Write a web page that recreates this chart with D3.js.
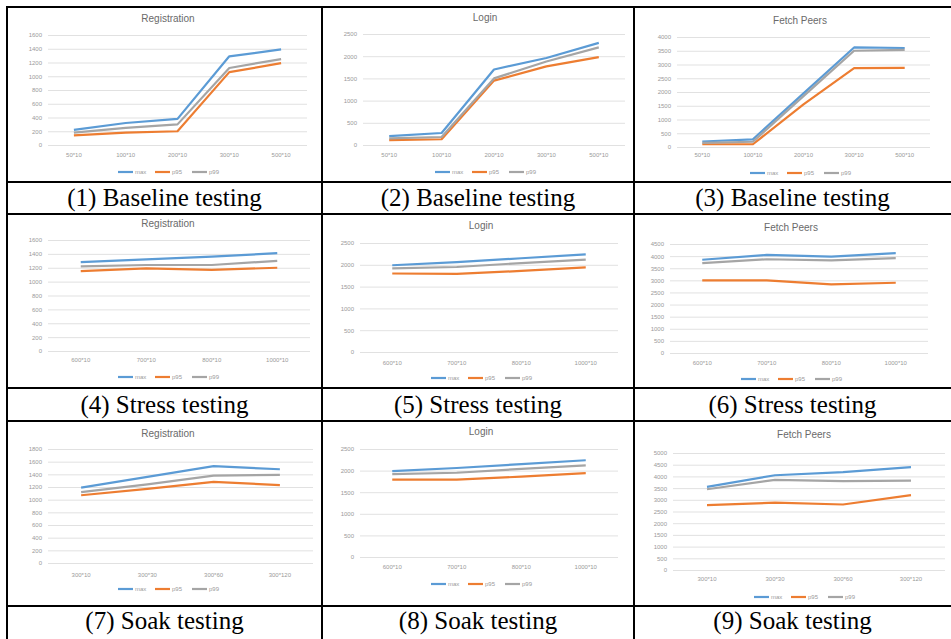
<!DOCTYPE html>
<html>
<head>
<meta charset="utf-8">
<script src="https://cdn.jsdelivr.net/npm/d3@7"></script>
<style>
  body { margin: 0; background: #fff; }
  svg { display: block; }
</style>
</head>
<body>
<script>
// categories
const baseCats = ['50*10', '100*10', '200*10', '300*10', '500*10']
const stressCats = ['600*10', '700*10', '800*10', '1000*10']
const soakCats = ['300*10', '300*30', '300*60', '300*120']

// series (ms)
const regBaseMax = [220, 320, 380, 1290, 1390]
const regBaseP95 = [140, 180, 200, 1060, 1190]
const regBaseP99 = [180, 250, 300, 1120, 1250]

const loginBaseMax = [200, 270, 1700, 1960, 2300]
const loginBaseP95 = [110, 130, 1450, 1770, 1980]
const loginBaseP99 = [150, 180, 1500, 1880, 2200]

const peersBaseMax = [200, 280, 1950, 3620, 3600]
const peersBaseP95 = [100, 100, 1550, 2870, 2880]
const peersBaseP99 = [150, 190, 1850, 3500, 3530]

const regStressMax = [1280, 1320, 1360, 1410]
const regStressP95 = [1150, 1190, 1170, 1200]
const regStressP99 = [1220, 1240, 1240, 1300]

const loginStressMax = [1990, 2060, 2150, 2240]
const loginStressP95 = [1800, 1790, 1860, 1940]
const loginStressP99 = [1920, 1950, 2040, 2120]

const peersStressMax = [3850, 4050, 3980, 4120]
const peersStressP95 = [3000, 3000, 2830, 2900]
const peersStressP99 = [3710, 3870, 3820, 3920]

const regSoakMax = [1190, 1360, 1530, 1480]
const regSoakP95 = [1070, 1170, 1280, 1230]
const regSoakP99 = [1120, 1240, 1380, 1390]

const loginSoakMax = [1990, 2060, 2150, 2240]
const loginSoakP95 = [1790, 1790, 1860, 1940]
const loginSoakP99 = [1920, 1950, 2040, 2120]

const peersSoakMax = [3550, 4050, 4180, 4400]
const peersSoakP95 = [2770, 2880, 2800, 3200]
const peersSoakP99 = [3450, 3850, 3800, 3820]

// y tick labels
const ticks1600 = [0, 200, 400, 600, 800, 1000, 1200, 1400, 1600]
const ticks1800 = [0, 200, 400, 600, 800, 1000, 1200, 1400, 1600, 1800]
const ticks2500 = [0, 500, 1000, 1500, 2000, 2500]
const ticks4000 = [0, 500, 1000, 1500, 2000, 2500, 3000, 3500, 4000]
const ticks4500 = [0, 500, 1000, 1500, 2000, 2500, 3000, 3500, 4000, 4500]
const ticks5000 = [0, 500, 1000, 1500, 2000, 2500, 3000, 3500, 4000, 4500, 5000]

const seriesNames = ['max', 'p95', 'p99']
const colors = ['#5b9bd5', '#ed7d31', '#a5a5a5']

const titles = ['Registration', 'Login', 'Fetch Peers']
const captions = [
  '(1) Baseline testing', '(2) Baseline testing', '(3) Baseline testing',
  '(4) Stress testing', '(5) Stress testing', '(6) Stress testing',
  '(7) Soak testing', '(8) Soak testing', '(9) Soak testing'
]

const svg = d3.select('body').append('svg')
  .attr('width', 951)
  .attr('height', 639)

// panel layout: plot box, title, x labels and legend positions
const panels = [
  {cats: baseCats, s: [regBaseMax, regBaseP95, regBaseP99], ticks: ticks1600, title: 0, x: [48, 307], y: [145, 35], tx: 168, ty: 22, ly: 157, gy: 172},
  {cats: baseCats, s: [loginBaseMax, loginBaseP95, loginBaseP99], ticks: ticks2500, title: 1, x: [363, 625], y: [145, 34], tx: 485, ty: 21, ly: 157, gy: 172},
  {cats: baseCats, s: [peersBaseMax, peersBaseP95, peersBaseP99], ticks: ticks4000, title: 2, x: [677, 930], y: [147, 37], tx: 800, ty: 24, ly: 157, gy: 173},
  {cats: stressCats, s: [regStressMax, regStressP95, regStressP99], ticks: ticks1600, title: 0, x: [48, 310], y: [351, 240], tx: 168, ty: 227, ly: 362, gy: 377},
  {cats: stressCats, s: [loginStressMax, loginStressP95, loginStressP99], ticks: ticks2500, title: 1, x: [360, 618], y: [352, 243], tx: 481, ty: 229, ly: 365, gy: 378},
  {cats: stressCats, s: [peersStressMax, peersStressP95, peersStressP99], ticks: ticks4500, title: 2, x: [670, 928], y: [353, 244], tx: 791, ty: 231, ly: 365, gy: 379},
  {cats: soakCats, s: [regSoakMax, regSoakP95, regSoakP99], ticks: ticks1800, title: 0, x: [48, 313], y: [563, 449], tx: 168, ty: 437, ly: 577, gy: 589},
  {cats: stressCats, s: [loginSoakMax, loginSoakP95, loginSoakP99], ticks: ticks2500, title: 1, x: [360, 618], y: [557, 449], tx: 481, ty: 435, ly: 569, gy: 584},
  {cats: soakCats, s: [peersSoakMax, peersSoakP95, peersSoakP99], ticks: ticks5000, title: 2, x: [673, 945], y: [570, 453], tx: 804, ty: 438, ly: 581, gy: 597}
]

const small = '6px "Liberation Sans", Arial, sans-serif'

panels.forEach((p) => {
  const g = svg.append('g')
  const x = d3.scaleBand().domain(p.cats).range(p.x)
  const y = d3.scaleLinear().domain([0, d3.max(p.ticks)]).range(p.y)

  // gridlines + y labels
  const yAxis = g.append('g')
    .attr('transform', `translate(${p.x[0]},0)`)
    .call(d3.axisLeft(y).tickValues(p.ticks).tickFormat(d3.format('d'))
      .tickSize(-(p.x[1] - p.x[0])).tickPadding(6))
  yAxis.select('.domain').remove()
  yAxis.selectAll('line').attr('stroke', '#d9d9d9').attr('stroke-width', 0.8)
  yAxis.selectAll('text')
    .attr('fill', '#9a9a9a')
    .style('font', small)

  // x labels
  g.selectAll('.xl')
    .data(p.cats)
    .enter()
    .append('text')
    .attr('x', (d) => x(d) + x.bandwidth() / 2)
    .attr('y', p.ly)
    .attr('text-anchor', 'middle')
    .attr('fill', '#9a9a9a')
    .style('font', small)
    .text((d) => d)

  // title
  g.append('text')
    .attr('x', p.tx)
    .attr('y', p.ty)
    .attr('text-anchor', 'middle')
    .attr('fill', '#6a6a6a')
    .style('font', '10px "Liberation Sans", Arial, sans-serif')
    .text(titles[p.title])

  const line = d3.line()
    .x((d, i) => x(p.cats[i]) + x.bandwidth() / 2)
    .y((d) => y(d))

  p.s.forEach((vals, i) => {
    g.append('path')
      .datum(vals)
      .attr('fill', 'none')
      .attr('stroke', colors[i])
      .attr('stroke-width', 2.2)
      .attr('stroke-linejoin', 'round')
      .attr('d', line)
  })

  // legend
  const lg = g.append('g').attr('transform', `translate(${p.tx - 50},${p.gy})`)
  seriesNames.forEach((n, i) => {
    lg.append('line')
      .attr('x1', i * 37).attr('x2', i * 37 + 15)
      .attr('y1', 0).attr('y2', 0)
      .attr('stroke', colors[i])
      .attr('stroke-width', 2.2)
    lg.append('text')
      .attr('x', i * 37 + 17)
      .attr('y', 2)
      .attr('fill', '#9a9a9a')
      .style('font', small)
      .text(n)
  })
})

// table grid
const rowLines = [7, 182, 214, 388, 421, 606]
const colLines = [7, 322, 634]
svg.selectAll('.hl')
  .data(rowLines)
  .enter()
  .append('line')
  .attr('x1', 6).attr('x2', 951)
  .attr('y1', (d) => d).attr('y2', (d) => d)
  .attr('stroke', '#000')
  .attr('stroke-width', 2)
svg.selectAll('.vl')
  .data(colLines)
  .enter()
  .append('line')
  .attr('x1', (d) => d).attr('x2', (d) => d)
  .attr('y1', 6).attr('y2', 639)
  .attr('stroke', '#000')
  .attr('stroke-width', 2)

// captions
const capX = [164.5, 478, 792.5]
const capY = [206, 413, 629]
svg.selectAll('.cap')
  .data(captions)
  .enter()
  .append('text')
  .attr('x', (d, i) => capX[i % 3])
  .attr('y', (d, i) => capY[Math.floor(i / 3)])
  .attr('text-anchor', 'middle')
  .attr('fill', '#000')
  .style('font', '25px "Liberation Serif", "Times New Roman", serif')
  .text((d) => d)
</script>
</body>
</html>
